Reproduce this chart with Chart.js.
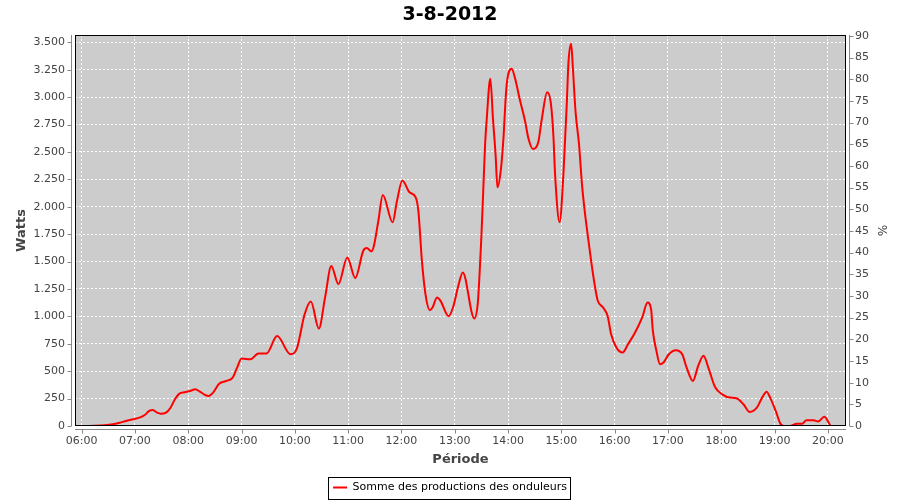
<!DOCTYPE html>
<html>
<head>
<meta charset="utf-8">
<script src="https://cdn.jsdelivr.net/npm/chart.js@4.4.1/dist/chart.umd.min.js"></script>
<style>
  html, body { margin: 0; padding: 0; background: #ffffff; }
  #wrap { width: 900px; height: 500px; }
</style>
</head>
<body>
<div id="wrap"><canvas id="c" width="900" height="500"></canvas></div>
<script>
// ---- data ----
const chartTitle = '3-8-2012';
const seriesName = 'Somme des productions des onduleurs';
const times = [
  '06:08','06:26','06:35','06:43','06:50','06:58','07:05','07:11','07:16','07:20',
  '07:25','07:29','07:35','07:40','07:45','07:50','07:56','08:02','08:08','08:13',
  '08:19','08:23','08:28','08:35','08:43','08:50','08:55','09:00','09:10','09:19',
  '09:28','09:40','09:55','10:02','10:11','10:18','10:27','10:34','10:41','10:49',
  '10:59','11:08','11:17','11:21','11:26','11:29','11:34','11:39','11:50','11:55',
  '12:01','12:09','12:16','12:19','12:23','12:27','12:32','12:35','12:40','12:44',
  '12:53','12:58','13:04','13:09','13:22','13:26','13:28','13:30','13:32','13:34',
  '13:36','13:40','13:43','13:46','13:48','13:52','13:55','13:57','13:59','14:04',
  '14:08','14:13','14:19','14:23','14:28','14:34','14:38','14:44','14:48','14:51',
  '14:53','14:58','15:02','15:04','15:06','15:08','15:11','15:13','15:16','15:20',
  '15:23','15:26','15:30','15:34','15:38','15:41','15:47','15:52','15:56','16:02',
  '16:09','16:15','16:23','16:31','16:37','16:41','16:43','16:47','16:51','16:55',
  '17:01','17:09','17:16','17:21','17:28','17:34','17:40','17:46','17:53','18:01',
  '18:10','18:17','18:25','18:32','18:40','18:46','18:51','18:55','19:02','19:06',
  '19:10','19:17','19:25','19:31','19:36','19:44','19:49','19:56','20:01','20:03'
];
const watts = [
  0, 6, 15, 30, 46, 61, 76, 100, 137, 146,
  122, 112, 122, 167, 244, 295, 308, 320, 335, 314,
  283, 274, 305, 387, 411, 442, 533, 615, 609, 661,
  661, 820, 655, 701, 1020, 1136, 889, 1172, 1459, 1295,
  1538, 1349, 1599, 1624, 1593, 1645, 1873, 2108, 1858, 2056,
  2239, 2132, 2086, 1964, 1508, 1203, 1057, 1081, 1172, 1142,
  1002, 1081, 1279, 1401, 980, 1127, 1401, 1736, 2132, 2543,
  2802, 3168, 2802, 2467, 2177, 2345, 2650, 2954, 3152, 3259,
  3168, 2985, 2787, 2620, 2528, 2589, 2802, 3045, 2954, 2650,
  2284, 1858, 2254, 2589, 2924, 3320, 3488, 3259, 2863, 2558,
  2223, 1980, 1721, 1477, 1264, 1142, 1081, 1005, 838, 715,
  670, 746, 853, 990, 1127, 1066, 868, 685, 564, 579,
  655, 692, 655, 533, 411, 548, 640, 518, 356, 289,
  259, 253, 198, 128, 167, 259, 313, 259, 122, 30,
  0, 0, 21, 21, 52, 52, 40, 85, 30, 0
];
const xTickHours = ['06:00','07:00','08:00','09:00','10:00','11:00','12:00','13:00','14:00','15:00','16:00','17:00','18:00','19:00','20:00'];
const xRange = ['05:52.5', '20:20.4'];
const wattsTicks = [0,250,500,750,1000,1250,1500,1750,2000,2250,2500,2750,3000,3250,3500];
const wattsMax = 3567;
const pctTicks = [0,5,10,15,20,25,30,35,40,45,50,55,60,65,70,75,80,85,90];
const pctMax = 90.2;

// ---- helpers ----
function toMin(s) { const p = s.split(':'); return (+p[0]) * 60 + parseFloat(p[1]); }
function fmtTime(m) { const h = Math.floor(m / 60), mm = Math.round(m - h * 60); return String(h).padStart(2, '0') + ':' + String(mm).padStart(2, '0'); }
function fmtWatts(v) { return v >= 1000 ? Math.floor(v / 1000) + '.' + String(v % 1000).padStart(3, '0') : String(v); }

const points = times.map((t, i) => ({ x: toMin(t), y: watts[i] }));
const xTickMins = xTickHours.map(toMin);

const FONT = 'DejaVu Sans';
const AXIS_GREY = '#888888';
const LABEL = '#444444';
const BOTTOM_SHIFT = 3;

const framePlugin = {
  id: 'frame',
  beforeDraw(chart) {
    const { ctx, chartArea: a } = chart;
    ctx.save();
    ctx.fillStyle = '#cccccc';
    ctx.fillRect(a.left, a.top, a.right - a.left, a.bottom - a.top);
    ctx.restore();
  },
  afterDraw(chart) {
    const { ctx, chartArea: a } = chart;
    const sx = chart.scales.x, sy = chart.scales.y, sy1 = chart.scales.y1;
    ctx.save();
    // plot border
    ctx.strokeStyle = '#000000';
    ctx.lineWidth = 1;
    ctx.strokeRect(Math.round(a.left) + 0.5, Math.round(a.top) + 0.5, Math.round(a.right - a.left) - 1, Math.round(a.bottom - a.top) - 1);
    // offset axis lines + tick marks
    ctx.strokeStyle = AXIS_GREY;
    ctx.beginPath();
    const lx = Math.round(a.left) - 4 + 0.5;
    ctx.moveTo(lx, a.top); ctx.lineTo(lx, a.bottom);
    sy.ticks.forEach(t => { const y = Math.round(sy.getPixelForValue(t.value)) + 0.5; ctx.moveTo(lx, y); ctx.lineTo(lx - 4, y); });
    const rx = Math.round(a.right) + 3 + 0.5;
    ctx.moveTo(rx, a.top); ctx.lineTo(rx, a.bottom);
    sy1.ticks.forEach(t => { const y = Math.round(sy1.getPixelForValue(t.value)) + 0.5; ctx.moveTo(rx, y); ctx.lineTo(rx + 4, y); });
    const by = Math.round(a.bottom) + 3 + 0.5;
    ctx.moveTo(a.left, by); ctx.lineTo(a.right, by);
    sx.ticks.forEach(t => { const x = Math.round(sx.getPixelForValue(t.value)) + 0.5; ctx.moveTo(x, by); ctx.lineTo(x, by + 4); });
    ctx.stroke();
    // legend frame
    const lg = chart.legend;
    if (lg && lg.legendHitBoxes && lg.legendHitBoxes.length) {
      const hb = lg.legendHitBoxes[0];
      const cy = hb.top + hb.height / 2;
      ctx.strokeStyle = '#000000';
      ctx.strokeRect(Math.round(hb.left - 5) + 0.5, Math.round(cy - 11) + 0.5, Math.round(hb.width + 8), 22);
    }
    ctx.restore();
  }
};

new Chart(document.getElementById('c'), {
  type: 'line',
  data: {
    datasets: [{
      label: seriesName,
      data: points,
      yAxisID: 'y',
      borderColor: '#ff0000',
      backgroundColor: '#ff0000',
      borderWidth: 2,
      pointRadius: 0,
      cubicInterpolationMode: 'monotone',
      fill: false
    }]
  },
  options: {
    responsive: false,
    animation: false,
    devicePixelRatio: 1,
    layout: { padding: { top: 0, left: 0, right: 0, bottom: -BOTTOM_SHIFT } },
    plugins: {
      title: {
        display: true,
        text: chartTitle,
        color: '#000000',
        font: { family: FONT, size: 19, weight: 'bold' },
        padding: { top: 4, bottom: 8.2 }
      },
      legend: {
        position: 'bottom',
        labels: {
          usePointStyle: true,
          pointStyle: 'line',
          pointStyleWidth: 14,
          color: '#000000',
          font: { family: FONT, size: 11 },
          padding: 10
        }
      },
      tooltip: { enabled: false }
    },
    scales: {
      x: {
        type: 'linear',
        min: toMin(xRange[0]),
        max: toMin(xRange[1]),
        afterBuildTicks(s) { s.ticks = xTickMins.map(v => ({ value: v })); },
        afterFit(s) { s.height = 500 + BOTTOM_SHIFT - 426 - s.chart.legend.height; },
        ticks: { color: LABEL, font: { family: FONT, size: 11 }, padding: 9, maxRotation: 0, autoSkip: false, callback: v => fmtTime(v) },
        grid: { color: '#ffffff', lineWidth: 1, drawTicks: false },
        border: { display: false, dash: [2, 2] },
        title: { display: true, text: 'Période', color: LABEL, font: { family: FONT, size: 13, weight: 'bold' }, padding: { top: 0, bottom: 1.2 + BOTTOM_SHIFT } }
      },
      y: {
        position: 'left',
        min: 0,
        max: wattsMax,
        afterBuildTicks(s) { s.ticks = wattsTicks.map(v => ({ value: v })); },
        afterFit(s) { s.width = 75; },
        ticks: { color: LABEL, font: { family: FONT, size: 11 }, padding: 10, autoSkip: false, callback: v => fmtWatts(v) },
        grid: { color: '#ffffff', lineWidth: 1, drawTicks: false },
        border: { display: false, dash: [2, 2] },
        title: { display: true, text: 'Watts', color: LABEL, font: { family: FONT, size: 13, weight: 'bold' }, padding: { top: 14, bottom: 0 } }
      },
      y1: {
        position: 'right',
        min: 0,
        max: pctMax,
        afterBuildTicks(s) { s.ticks = pctTicks.map(v => ({ value: v })); },
        afterFit(s) { s.width = 54; },
        ticks: { color: LABEL, font: { family: FONT, size: 11 }, padding: 9, autoSkip: false },
        grid: { display: false, drawTicks: false },
        border: { display: false },
        title: { display: true, text: '%', color: LABEL, font: { family: FONT, size: 12 }, padding: { top: 12, bottom: 0 } }
      }
    }
  },
  plugins: [framePlugin]
});
</script>
</body>
</html>
